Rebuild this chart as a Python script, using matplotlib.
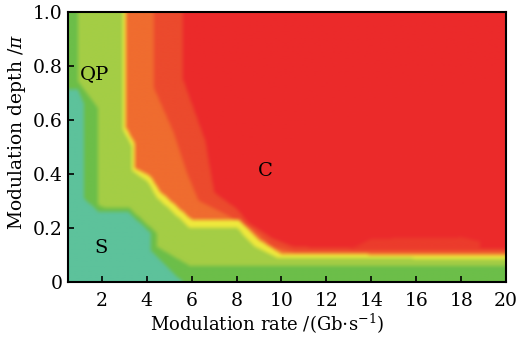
import numpy as np
import matplotlib
matplotlib.use('Agg')
import matplotlib.pyplot as plt
from matplotlib.path import Path
from matplotlib.colors import to_rgb

plt.rcParams['font.family'] = 'DejaVu Serif'
plt.rcParams['mathtext.fontset'] = 'dejavuserif'

x_min, x_max = 0.5, 20

# zone boundaries (top/left edge -> right/bottom edge),
# each zone fills everything below-left of its line
teal_x = [0.5, 0.95, 1.2, 1.2, 1.85, 3.15, 4.2, 4.2, 5.6]
teal_y = [0.71, 0.71, 0.66, 0.31, 0.26, 0.26, 0.18, 0.115, 0.0]
green_x = [0.95, 0.95, 1.85, 1.85, 2.1, 3.2, 4.45, 4.45, 5.9, 20]
green_y = [1.0, 0.74, 0.64, 0.285, 0.275, 0.275, 0.18, 0.13, 0.06, 0.06]
yg_x = [2.95, 2.95, 3.35, 3.35, 4.05, 4.45, 5.0, 5.9, 8.0, 8.8, 9.8, 20]
yg_y = [1.0, 0.56, 0.5, 0.41, 0.37, 0.31, 0.27, 0.2, 0.2, 0.13, 0.09, 0.085]
yel_x = [3.08, 3.08, 3.48, 3.48, 4.17, 4.58, 5.12, 6.0, 8.1, 9.0, 10.0, 20]
yel_y = [1.0, 0.57, 0.51, 0.42, 0.39, 0.335, 0.295, 0.23, 0.23, 0.155, 0.103, 0.1]
orange_x = [4.3, 4.3, 5.2, 5.8, 6.3, 7.5, 8.6, 9.6, 10.5, 20]
orange_y = [1.0, 0.72, 0.55, 0.4, 0.3, 0.25, 0.2, 0.13, 0.112, 0.11]
dorange_x = [5.6, 5.6, 6.6, 7.0, 8.0, 8.5, 9.6, 10.5, 12, 20]
dorange_y = [1.0, 0.75, 0.52, 0.33, 0.27, 0.22, 0.16, 0.13, 0.125, 0.122]
patch_x = [13.0, 14.0, 18.0, 18.8, 18.8, 13.0]
patch_y = [0.12, 0.16, 0.165, 0.15, 0.12, 0.12]

labels = ['QP', 'C', 'S']
label_x = [1.7, 9.3, 1.97]
label_y = [0.77, 0.41, 0.125]

c_teal = '#5DC29B'
c_green = '#6CBE49'
c_yg = '#A4CD45'
c_yel = '#EFE83C'
c_orange = '#F06C2F'
c_dorange = '#EC4A2D'
c_patch = '#EC3C2C'
c_red = '#EB2A2B'


def zone(xs, ys):
    # close the region round the lower-left corner, a bit outside the axes
    px = list(xs) + [xs[-1], x_min - 1, x_min - 1, xs[0]]
    py = list(ys) + [-1, -1, ys[0], ys[0]]
    if ys[0] >= 1.0:
        py[-2] = py[-1] = 2
    return np.column_stack([px, py])


def box_blur(a, r, axis):
    pad = [(0, 0)] * a.ndim
    pad[axis] = (r, r)
    p = np.pad(a, pad, mode='edge')
    out = np.zeros_like(a)
    n = a.shape[axis]
    for k in range(2 * r + 1):
        out += np.take(p, range(k, k + n), axis=axis)
    return out / (2 * r + 1)


# paint the zones on a fine raster, then soften the edges like the
# interpolated shading of the original
nx, ny = 440, 270
gx = x_min + (np.arange(nx) + 0.5) * (x_max - x_min) / nx
gy = (np.arange(ny) + 0.5) / ny
GX, GY = np.meshgrid(gx, gy)
pts = np.column_stack([GX.ravel(), GY.ravel()])
img = np.tile(np.array(to_rgb(c_red)), (nx * ny, 1))
layers = [(zone(dorange_x, dorange_y), c_dorange),
          (np.column_stack([patch_x, patch_y]), c_patch),
          (zone(orange_x, orange_y), c_orange),
          (zone(yel_x, yel_y), c_yel),
          (zone(yg_x, yg_y), c_yg),
          (zone(green_x, green_y), c_green),
          (zone(teal_x, teal_y), c_teal)]
for poly, c in layers:
    inside = Path(poly).contains_points(pts)
    img[inside] = to_rgb(c)
img = img.reshape(ny, nx, 3)
img = box_blur(box_blur(img, 2, 0), 2, 1)
img = box_blur(box_blur(img, 1, 0), 1, 1)

fig = plt.figure(figsize=(5.17, 3.39), dpi=100)
ax = fig.add_axes([0.1315, 0.168, 0.8475, 0.7966])
ax.imshow(img, origin='lower', extent=[x_min, x_max, 0, 1], aspect='auto',
          interpolation='bilinear')

for t, x, y in zip(labels, label_x, label_y):
    ax.text(x, y, t, fontsize=14, ha='center', va='center')

ax.set_xlim(x_min, x_max)
ax.set_ylim(0, 1)
ax.set_xticks(np.arange(2, 21, 2))
ax.set_yticks([0, 0.2, 0.4, 0.6, 0.8, 1.0])
ax.set_yticklabels(['0', '0.2', '0.4', '0.6', '0.8', '1.0'])
ax.tick_params(direction='in', length=4, width=1.2, labelsize=13.5)
ax.tick_params(axis='x', pad=7)
ax.tick_params(axis='y', pad=4)
for s in ax.spines.values():
    s.set_linewidth(1.5)
ax.set_xlabel(r'Modulation rate /(Gb$\cdot$s$^{-1}$)', fontsize=13)
ax.set_ylabel(r'Modulation depth /$\pi$', fontsize=13.5)
ax.xaxis.set_label_coords(0.455, -0.11)
ax.yaxis.set_label_coords(-0.092, 0.555)

fig.savefig('out.png', dpi=100)
